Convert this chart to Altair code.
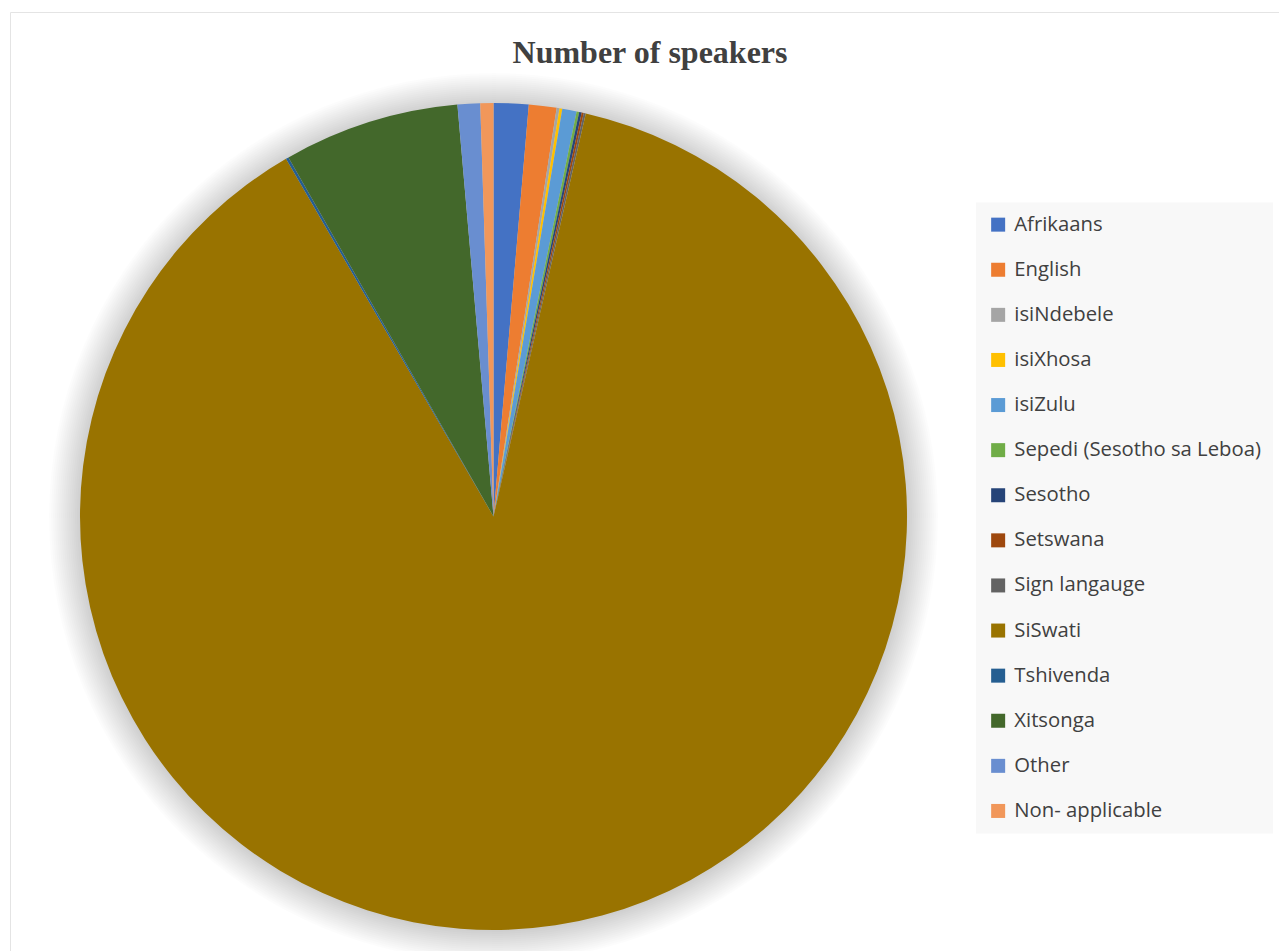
import math
import altair as alt
import pandas as pd

# ---- data ----
languages = ["Afrikaans", "English", "isiNdebele", "isiXhosa", "isiZulu",
             "Sepedi (Sesotho sa Leboa)", "Sesotho", "Setswana", "Sign langauge",
             "SiSwati", "Tshivenda", "Xitsonga", "Other", "Non- applicable"]
speakers = [1.36, 1.08, 0.11, 0.11, 0.56, 0.10, 0.10, 0.08, 0.08,
            87.97, 0.11, 6.86, 0.88, 0.51]
colors = ["#4472C4", "#ED7D31", "#A5A5A5", "#FFC000", "#5B9BD5", "#70AD47",
          "#264478", "#9E480E", "#636363", "#997300", "#255E91", "#43682B",
          "#698ED0", "#F1975A"]
title_text = ["Number of speakers"]

df = pd.DataFrame({"language": languages, "speakers": speakers,
                   "order": list(range(len(languages)))})

CX, CY, R = 493.5, 516.5, 413.5
W, H = 1279, 951

# soft shadow rings around the pie (one layer per ring)
shadow_r = [R + 1 + 2 * i for i in range(16)]
one = pd.DataFrame({"a": [0]})
shadow_layers = [
    alt.Chart(one).mark_arc(color="black", opacity=0.0105, outerRadius=r,
                            theta=0, theta2=2 * math.pi).encode(
        x=alt.value(CX), y=alt.value(CY + 1)
    )
    for r in shadow_r
]

# chart frame
frame = alt.Chart(one).mark_rect(filled=False, stroke="#E4E4E4", strokeWidth=1).encode(
    x=alt.value(10.5), x2=alt.value(W + 20), y=alt.value(12.5), y2=alt.value(H + 20)
)

pie = alt.Chart(df).mark_arc(outerRadius=R, strokeWidth=0).encode(
    x=alt.value(CX), y=alt.value(CY),
    theta=alt.Theta("speakers:Q", stack=True),
    order=alt.Order("order:Q", sort="ascending"),
    color=alt.Color(
        "language:N",
        scale=alt.Scale(domain=languages, range=colors),
        sort=languages,
        legend=alt.Legend(
            title=None, orient="none", legendX=976, legendY=202.5,
            fillColor="#F8F8F8", padding=12,
            symbolType="square", symbolSize=196, symbolStrokeWidth=0,
            labelFont="Open Sans", labelFontSize=20.3, labelColor="#404040",
            labelOffset=6, rowPadding=24.1, labelLimit=500,
        ),
    ),
)

title_df = pd.DataFrame({"t": title_text})
title = alt.Chart(title_df).mark_text(
    font="Liberation Serif", fontSize=32, fontWeight="bold", color="#404040",
    align="center", baseline="middle",
).encode(x=alt.value(650), y=alt.value(53), text="t:N")

chart = alt.layer(frame, *shadow_layers, pie, title).properties(
    width=W, height=H, autosize=alt.AutoSizeParams(type="none"), padding=0,
).configure(background="#FFFFFF").configure_view(stroke=None, fill="#FFFFFF")

chart.save("out.html", embed_options={"renderer": "svg", "actions": False})
